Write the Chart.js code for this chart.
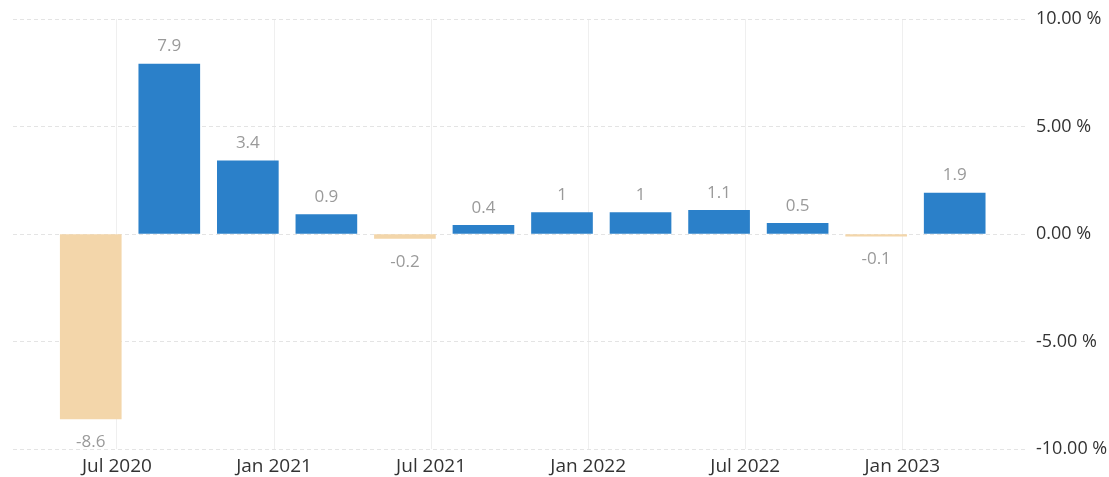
<!DOCTYPE html>
<html>
<head>
<meta charset="utf-8">
<script src="https://cdn.jsdelivr.net/npm/chart.js@4.4.1/dist/chart.umd.min.js"></script>
<style>
  html, body { margin: 0; padding: 0; background: #fff; }
  #wrap { width: 1109px; height: 477px; }
</style>
</head>
<body>
<div id="wrap"><canvas id="gdp"></canvas></div>
<script>
// quarter (last month of each quarter) and growth rate, %
const periods = ['2020-06', '2020-09', '2020-12', '2021-03', '2021-06', '2021-09',
                 '2021-12', '2022-03', '2022-06', '2022-09', '2022-12', '2023-03'];
const growth = [-8.6, 7.9, 3.4, 0.9, -0.2, 0.4, 1, 1, 1.1, 0.5, -0.1, 1.9];

const xTickPeriods = ['2020-07', '2021-01', '2021-07', '2022-01', '2022-07', '2023-01'];
const xTickLabels = ['Jul 2020', 'Jan 2021', 'Jul 2021', 'Jan 2022', 'Jul 2022', 'Jan 2023'];
const yTicks = [-10, -5, 0, 5, 10];

const BLUE = '#2b80c9';
const TAN = '#f3d6aa';

// months since Jan 2020
function monthIndex(p) {
    const [y, m] = p.split('-').map(Number);
    return (y - 2020) * 12 + (m - 1);
}

const xTickValues = xTickPeriods.map(monthIndex);

const valueLabels = {
    id: 'valueLabels',
    afterDatasetsDraw(chart) {
        const { ctx } = chart;
        const meta = chart.getDatasetMeta(0);
        ctx.save();
        ctx.font = '17px "Open Sans"';
        ctx.fillStyle = '#9a9a9a';
        ctx.textAlign = 'center';
        meta.data.forEach((bar, i) => {
            const v = growth[i];
            if (v >= 0) {
                ctx.textBaseline = 'bottom';
                ctx.fillText(String(v), bar.x, Math.min(bar.y, bar.base) - 9);
            } else {
                ctx.textBaseline = 'top';
                ctx.fillText(String(v), bar.x, Math.max(bar.y, bar.base) + 15);
            }
        });
        ctx.restore();
    },
};

new Chart(document.getElementById('gdp'), {
    type: 'bar',
    data: {
        datasets: [{
            data: periods.map((p, i) => ({ x: monthIndex(p), y: growth[i] })),
            backgroundColor: growth.map((v) => (v >= 0 ? BLUE : TAN)),
            borderWidth: 0,
            barThickness: 61,
        }],
    },
    options: {
        responsive: true,
        maintainAspectRatio: false,
        animation: false,
        layout: { padding: { top: 19, left: 13, right: 0, bottom: 0 } },
        plugins: {
            legend: { display: false },
            tooltip: { enabled: false },
        },
        scales: {
            x: {
                type: 'linear',
                min: 2.03,
                max: 40.8,
                offset: false,
                grid: { color: '#efefef', drawTicks: false, offset: false },
                border: { display: false },
                afterBuildTicks: (scale) => {
                    scale.ticks = xTickValues.map((value) => ({ value }));
                },
                afterFit: (scale) => { scale.height = 28; },
                ticks: {
                    padding: 6,
                    maxRotation: 0,
                    autoSkip: false,
                    color: '#333',
                    font: { family: '"Open Sans"', size: 19 },
                    callback: (value) => xTickLabels[xTickValues.indexOf(value)] ?? '',
                },
            },
            y: {
                position: 'right',
                min: -10,
                max: 10,
                grid: { color: '#e4e4e4', drawTicks: false },
                border: { display: false, dash: [4, 3] },
                afterBuildTicks: (scale) => {
                    scale.ticks = yTicks.map((value) => ({ value }));
                },
                afterFit: (scale) => { scale.width = 81; },
                ticks: {
                    padding: 8,
                    color: '#333',
                    font: { family: '"Open Sans"', size: 18 },
                    callback: (value) => value.toFixed(2) + ' %',
                },
            },
        },
    },
    plugins: [valueLabels],
});
</script>
</body>
</html>
